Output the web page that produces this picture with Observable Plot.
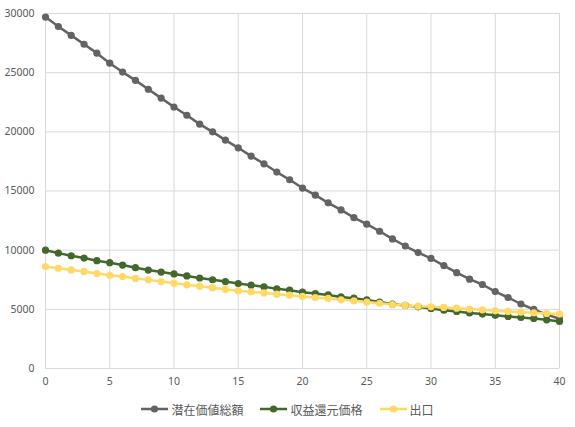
<!DOCTYPE html>
<html><head><meta charset="utf-8">
<script src="https://cdn.jsdelivr.net/npm/d3@7"></script>
<script src="https://cdn.jsdelivr.net/npm/@observablehq/plot@0.6"></script>
<style>
body{margin:0;background:#fff;}
#legend{display:flex;justify-content:center;align-items:center;gap:17px;font-family:"Noto Sans CJK JP",sans-serif;font-size:12px;color:#595959;margin-top:6px;height:16px;}
.item{display:flex;align-items:center;gap:3px;}
</style></head><body><div id="chart"></div><div id="legend"></div>
<script>
const years = [0,1,2,3,4,5,6,7,8,9,10,11,12,13,14,15,16,17,18,19,20,21,22,23,24,25,26,27,28,29,30,31,32,33,34,35,36,37,38,39,40];
const seriesNames = ["潜在価値総額","収益還元価格","出口"];
const seriesColors = ["#636363","#43682B","#FFD966"];
const potential = [29700,28900,28150,27400,26650,25800,25050,24350,23600,22850,22100,21400,20650,20000,19300,18650,17950,17300,16600,15950,15250,14650,14000,13400,12750,12200,11600,10950,10350,9800,9300,8700,8100,7550,7100,6500,6000,5450,5000,4550,4200];
const capitalized = [10000,9750,9530,9330,9110,8940,8740,8520,8320,8150,7990,7820,7650,7500,7350,7180,7040,6900,6730,6620,6450,6340,6220,6050,5940,5800,5620,5440,5330,5210,5080,4930,4820,4700,4600,4490,4400,4320,4230,4110,3980];
const exitValue = [8620,8470,8330,8200,8030,7880,7770,7610,7490,7350,7210,7070,6960,6830,6680,6560,6480,6390,6280,6200,6090,6000,5920,5800,5720,5610,5510,5410,5330,5270,5210,5160,5100,5020,4960,4870,4820,4760,4710,4650,4600];
const xTicks = [0,5,10,15,20,25,30,35,40];
const yTicks = [0,5000,10000,15000,20000,25000,30000];

const seriesValues = [potential, capitalized, exitValue];
const data = [];
seriesNames.forEach((name, i) => {
  years.forEach((yr, j) => data.push({series: name, x: yr, y: seriesValues[i][j]}));
});

const chart = Plot.plot({
  width: 575,
  height: 395,
  marginLeft: 45,
  marginRight: 16,
  marginTop: 13,
  marginBottom: 27,
  style: {fontFamily: "'Noto Sans', sans-serif", fontSize: "10.5px", color: "#595959", background: "#fff"},
  x: {domain: [0, 40], label: null},
  y: {domain: [0, 30000], label: null},
  color: {domain: seriesNames, range: seriesColors},
  marks: [
    Plot.ruleX(xTicks, {stroke: "#d9d9d9", strokeWidth: 1}),
    Plot.ruleY(yTicks, {stroke: "#d9d9d9", strokeWidth: 1}),
    Plot.axisX({ticks: xTicks, tickSize: 0, tickPadding: 9, tickFormat: d => String(d), label: null}),
    Plot.axisY({ticks: yTicks, tickSize: 0, tickPadding: 11, tickFormat: d => String(d), label: null}),
    Plot.line(data, {x: "x", y: "y", z: "series", stroke: "series", strokeWidth: 2.5}),
    Plot.dot(data, {x: "x", y: "y", fill: "series", r: 3.6})
  ]
});
document.getElementById("chart").appendChild(chart);

const legend = document.getElementById("legend");
seriesNames.forEach((name, i) => {
  const item = document.createElement("div");
  item.className = "item";
  item.innerHTML = `<svg width="27" height="10"><line x1="0" y1="5" x2="27" y2="5" stroke="${seriesColors[i]}" stroke-width="2.5"/><circle cx="13.5" cy="5" r="3.6" fill="${seriesColors[i]}"/></svg><span>${name}</span>`;
  legend.appendChild(item);
});
</script>
</body></html>
